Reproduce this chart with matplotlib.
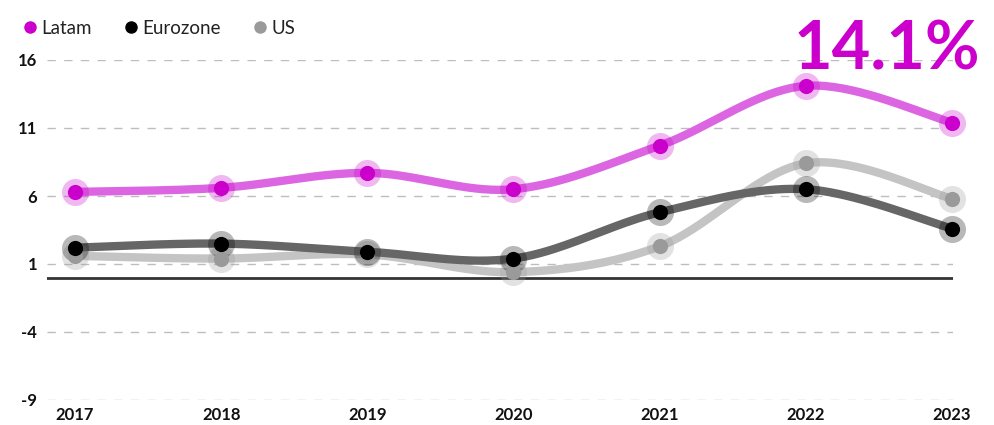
import numpy as np
import matplotlib.pyplot as plt
from matplotlib.lines import Line2D

plt.rcParams['font.family'] = ['Lato', 'DejaVu Sans']
plt.rcParams['axes.unicode_minus'] = False

years = [2017, 2018, 2019, 2020, 2021, 2022, 2023]
latam = [6.3, 6.6, 7.7, 6.5, 9.7, 14.1, 11.4]
eurozone = [2.2, 2.5, 1.9, 1.4, 4.8, 6.5, 3.6]
us = [1.6, 1.4, 1.7, 0.4, 2.3, 8.4, 5.8]

yticks = [-9, -4, 1, 6, 11, 16]

# name, line colour, point colour, halo colour
series = [
    ("US", us, "#c4c4c4", "#9a9a9a", "#9a9a9a"),
    ("Eurozone", eurozone, "#666666", "#000000", "#000000"),
    ("Latam", latam, "#dc66e2", "#cc00cc", "#cc00cc"),
]


def catmull_rom(x, y, n=40):
    # uniform catmull-rom through the points, ends padded by repetition
    p = np.column_stack([x, y]).astype(float)
    p = np.vstack([p[0], p, p[-1]])
    out = []
    t = np.linspace(0, 1, n)[:, None]
    for i in range(1, len(p) - 2):
        p0, p1, p2, p3 = p[i - 1], p[i], p[i + 1], p[i + 2]
        seg = 0.5 * ((2 * p1) + (-p0 + p2) * t
                     + (2 * p0 - 5 * p1 + 4 * p2 - p3) * t ** 2
                     + (-p0 + 3 * p1 - 3 * p2 + p3) * t ** 3)
        out.append(seg if i == 1 else seg[1:])
    out = np.vstack(out)
    return out[:, 0], out[:, 1]


fig = plt.figure(figsize=(9.95, 4.25), dpi=100)
ax = fig.add_axes([47 / 995, 25 / 425, 906 / 995, 340 / 425])

ax.set_ylim(-9, 16)
ax.set_xlim(2017 - 28 / 146.2, 2023 + 1 / 146.2)

for t in yticks:
    ax.axhline(t, color="#bdbdbd", lw=1, dashes=(6, 6), zorder=0)
ax.axhline(0, color="#333333", lw=2, zorder=1)

for name, vals, lc, pc, hc in series:
    sx, sy = catmull_rom(years, vals)
    ax.plot(sx, sy, color=lc, lw=6, solid_capstyle="round", zorder=2, clip_on=False)
    ax.scatter(years, vals, s=380, color=hc, alpha=0.28, lw=0, zorder=3, clip_on=False)
    ax.scatter(years, vals, s=120, color=pc, lw=0, zorder=4, clip_on=False)

ax.set_yticks(yticks)
ax.set_xticks(years)
ax.tick_params(length=0)
ax.tick_params(axis="y", pad=7)
ax.tick_params(axis="x", pad=5)
for lab in ax.get_xticklabels() + ax.get_yticklabels():
    lab.set_fontsize(12)
    lab.set_fontweight("bold")
    lab.set_color("#111111")
for s in ax.spines.values():
    s.set_visible(False)

# legend along the top
handles = [Line2D([], [], marker="o", ls="", markersize=9, markeredgewidth=0, color=c)
           for c in ["#cc00cc", "#000000", "#9a9a9a"]]
fig.legend(handles, ["Latam", "Eurozone", "US"], loc="upper left",
           bbox_to_anchor=(2 / 995, 1 - 3 / 425), ncol=3, frameon=False,
           fontsize=13.5, handletextpad=0.0, columnspacing=1.5, handlelength=1.2,
           labelcolor="#222222")

# headline figure for latest peak
fig.text(980 / 995, 1 - 69 / 425, f"{latam[5]:.1f}%", ha="right", va="baseline",
         fontsize=48, fontweight="bold", color="#cc00cc")

fig.savefig("out.png", dpi=100)
